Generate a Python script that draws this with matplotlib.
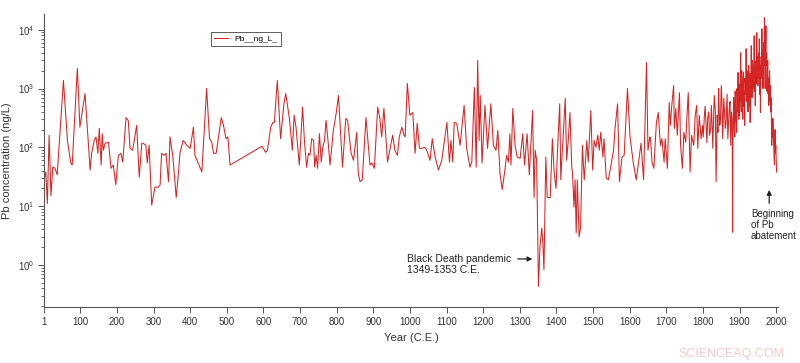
import numpy as np
import matplotlib
matplotlib.use("Agg")
import matplotlib.pyplot as plt
from matplotlib.ticker import LogLocator, NullFormatter, FixedLocator

plt.rcParams['font.family'] = ['Liberation Sans', 'DejaVu Sans']

# Pb record (year C.E., ng/L), up to 1878
years_early = [1, 6, 10, 15, 20, 25, 31, 37, 54, 65, 74, 78, 92, 99, 113, 127, 131, 138, 143, 148,
         152, 157, 160, 163, 168, 177, 184, 190, 197, 204, 211, 216, 225, 231, 236, 243, 254, 261, 268, 272,
         279, 283, 288, 295, 304, 313, 318, 322, 329, 334, 341, 345, 353, 362, 368, 372, 381, 391, 400, 409,
         413, 422, 432, 445, 453, 459, 464, 471, 485, 491, 498, 503, 509, 596, 600, 606, 611, 620, 626, 630,
         638, 647, 656, 661, 671, 679, 684, 689, 698, 707, 712, 718, 723, 727, 732, 737, 740, 744, 748, 753,
         758, 762, 767, 771, 776, 782, 791, 799, 805, 816, 825, 830, 839, 846, 855, 859, 864, 870, 880, 887,
         891, 896, 903, 912, 918, 923, 929, 935, 939, 946, 953, 959, 966, 971, 978, 984, 987, 993, 1000, 1008,
         1014, 1020, 1026, 1032, 1041, 1046, 1055, 1061, 1069, 1078, 1087, 1101, 1108, 1112, 1117, 1121, 1128, 1137, 1148, 1155,
         1164, 1169, 1176, 1181, 1185, 1189, 1192, 1197, 1205, 1212, 1221, 1228, 1235, 1240, 1246, 1252, 1260, 1264, 1269, 1273,
         1276, 1281, 1287, 1293, 1301, 1308, 1313, 1320, 1326, 1335, 1339, 1342, 1346, 1351, 1355, 1360, 1363, 1366, 1371, 1375,
         1383, 1389, 1394, 1399, 1403, 1409, 1412, 1416, 1419, 1424, 1428, 1433, 1437, 1442, 1444, 1448, 1451, 1454, 1457, 1462,
         1466, 1471, 1476, 1483, 1487, 1494, 1499, 1503, 1508, 1513, 1517, 1521, 1527, 1530, 1536, 1542, 1548, 1556, 1560, 1567,
         1572, 1579, 1585, 1594, 1601, 1610, 1618, 1624, 1631, 1638, 1646, 1650, 1655, 1657, 1661, 1666, 1673, 1678, 1684, 1688,
         1694, 1697, 1703, 1708, 1711, 1715, 1720, 1722, 1726, 1730, 1736, 1739, 1744, 1748, 1753, 1757, 1760, 1765, 1769, 1775,
         1779, 1783, 1786, 1790, 1795, 1799, 1801, 1804, 1806, 1809, 1811, 1813, 1816, 1818, 1821, 1823, 1825, 1827, 1829, 1831,
         1834, 1836, 1839, 1841, 1843, 1844, 1846, 1848, 1850, 1852, 1854, 1855, 1857, 1859, 1861, 1863, 1865, 1866, 1868, 1870,
         1872, 1874, 1876, 1878]

pb_early = [28, 38, 11, 160, 15, 46, 44, 34, 1370, 131, 54, 50, 2200, 220, 820, 41, 79, 131, 150, 79,
      210, 50, 170, 89, 117, 122, 44, 50, 23, 73, 79, 56, 320, 287, 96, 89, 236, 31, 117, 117,
      108, 54, 108, 10.4, 21, 21, 23, 79, 73, 79, 26, 150, 68, 14, 36, 79, 131, 108, 96, 220,
      73, 54, 38, 1000, 140, 122, 79, 79, 320, 236, 140, 150, 50, 104, 96, 82, 89, 220, 265, 265,
      1370, 140, 550, 820, 310, 89, 350, 220, 50, 480, 131, 46, 79, 73, 140, 131, 46, 73, 44, 170,
      56, 100, 131, 287, 140, 50, 194, 390, 760, 46, 310, 287, 82, 60, 180, 36, 26, 28, 320, 100,
      50, 54, 44, 480, 310, 150, 460, 131, 56, 96, 160, 89, 73, 150, 220, 160, 150, 1220, 350, 390,
      79, 255, 96, 96, 100, 89, 60, 140, 68, 41, 60, 265, 56, 131, 56, 265, 255, 108, 515, 96,
      46, 56, 1040, 46, 3000, 131, 760, 54, 515, 96, 550, 108, 89, 194, 36, 19, 44, 73, 56, 170,
      50, 460, 108, 68, 65, 170, 50, 170, 34, 424, 14, 89, 60, 0.43, 2.0, 4.2, 2.4, 0.83, 68, 14,
      14, 140, 36, 20, 89, 550, 28, 89, 170, 680, 60, 150, 390, 46, 36, 9.6, 28, 3.5, 28, 3.0,
      4.4, 108, 28, 131, 56, 424, 41, 131, 100, 160, 89, 180, 68, 140, 30, 28, 46, 89, 210, 550,
      26, 68, 73, 1000, 150, 54, 28, 54, 117, 28, 2760, 89, 150, 140, 56, 44, 265, 390, 108, 140,
      56, 140, 44, 580, 236, 515, 1120, 210, 460, 160, 850, 108, 44, 180, 122, 390, 850, 38, 160, 108,
      350, 515, 96, 350, 140, 236, 150, 350, 500, 210, 120, 310, 400, 160, 200, 515, 250, 96, 300, 760,
      400, 26, 350, 180, 1000, 500, 236, 300, 1120, 600, 140, 250, 680, 400, 210, 250, 515, 800, 140, 250,
      460, 600, 108, 400]

# annual part 1880-2001
years_recent = list(range(1880, 2002))
pb_recent = [300, 3.6, 150, 200, 700, 460, 250, 150, 900, 680,
             300, 250, 180, 1000, 600, 400, 1870, 500, 300, 1200,
             350, 600, 900, 4060, 700, 400, 2000, 850, 500, 300,
             1400, 1870, 500, 900, 236, 1500, 1200, 800, 4750, 1000,
             600, 2000, 680, 400, 1500, 2450, 900, 500, 1800, 265,
             800, 1500, 5350, 1200, 700, 3000, 850, 1500, 2500, 1000,
             7900, 900, 2500, 515, 1500, 3000, 1200, 8900, 1500, 3500,
             1120, 2000, 4000, 1500, 7000, 800, 2500, 390, 1800, 3500,
             1500, 10400, 2000, 4500, 1000, 1870, 6000, 2500, 16000, 3000,
             1000, 5000, 11600, 2500, 4000, 900, 1870, 3000, 800, 1500,
             515, 1200, 2000, 600, 1120, 400, 700, 250, 108, 300,
             150, 310, 200, 120, 90, 50, 100, 200, 80, 108,
             60, 38]

xtick_vals = [1, 100, 200, 300, 400, 500, 600, 700, 800, 900, 1000,
              1100, 1200, 1300, 1400, 1500, 1600, 1700, 1800, 1900, 2000]

years = years_early + years_recent
pb = pb_early + pb_recent

fig = plt.figure(figsize=(8, 3.63), dpi=100)
ax = fig.add_axes([0.055, 0.1535, 0.9175, 0.8079])

ax.plot(years, pb, color='#d42424', lw=0.75, label='Pb__ng_L_')
ax.set_yscale('log')
ax.set_ylim(0.19, 18500)
ax.set_xlim(1, 2005)

ax.xaxis.set_major_locator(FixedLocator(xtick_vals))
ax.set_xticklabels([str(v) for v in xtick_vals])
ax.yaxis.set_major_locator(LogLocator(base=10, numticks=10))
ax.yaxis.set_minor_locator(LogLocator(base=10, subs=np.arange(2, 10), numticks=20))
ax.yaxis.set_minor_formatter(NullFormatter())

for s in ['top', 'right']:
    ax.spines[s].set_visible(False)
for s in ['left', 'bottom']:
    ax.spines[s].set_color('#555555')
    ax.spines[s].set_linewidth(0.8)

ax.tick_params(axis='both', which='major', direction='out', length=4, width=0.7,
               colors='#555555', labelcolor='#333333', labelsize=7, pad=3)
ax.tick_params(axis='y', which='minor', direction='out', length=2.5, width=0.6, colors='#555555')

ax.set_xlabel('Year (C.E.)', fontsize=8, color='#333333', labelpad=4)
ax.set_ylabel('Pb concentration (ng/L)', fontsize=8, color='#333333', labelpad=4)

leg = ax.legend(loc='upper left', bbox_to_anchor=(0.2275, 0.937), fontsize=6,
                fancybox=False, framealpha=1, edgecolor='#444444', handlelength=1.7,
                handletextpad=0.8, borderpad=0.35, borderaxespad=0)
leg.get_frame().set_linewidth(0.6)

# Black Death annotation
ax.annotate('', xy=(1342, 1.26), xytext=(1287, 1.26),
            arrowprops=dict(arrowstyle='-|>', color='#222222', lw=0.9, mutation_scale=7))
ax.text(992, 1.0, 'Black Death pandemic\n1349-1353 C.E.', fontsize=7.5, color='#222222',
        ha='left', va='center', linespacing=1.15)

# Pb abatement annotation
ax.annotate('', xy=(1981, 21), xytext=(1981, 10),
            arrowprops=dict(arrowstyle='-|>', color='#222222', lw=0.9, mutation_scale=7))
ax.text(1931, 4.8, 'Beginning\nof Pb\nabatement', fontsize=7, color='#222222',
        ha='left', va='center', linespacing=1.15)

fig.text(0.98, 0.025, 'SCIENCEAQ.COM', fontsize=9, color='#f2caca', ha='right', va='center')

fig.savefig('out.png', dpi=100)
